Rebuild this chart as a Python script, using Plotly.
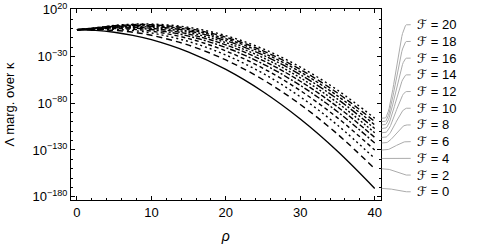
import numpy as np
import plotly.graph_objects as go

# ---- data (log10 of Λ marginalised over κ) ----
rho = [0, 2.5, 5, 7.5, 10, 15, 20, 25, 30, 35, 40]
F_values = [0, 2, 4, 6, 8, 10, 12, 14, 16, 18, 20]
logL_F0 = [-1.5, -2.16, -4.15, -7.46, -12.1, -25.35, -43.9, -67.75, -96.9, -131.35, -171.1]
logL_F2 = [-1.5, -1.39, -2.12, -4.11, -7.41, -17.95, -33.79, -54.92, -81.35, -113.08, -150.1]
logL_F4 = [-1.5, -0.98, -1.06, -2.35, -4.94, -14.07, -28.48, -48.18, -73.19, -103.49, -139.08]
logL_F6 = [-1.5, -0.65, -0.19, -0.92, -2.94, -10.91, -24.16, -42.70, -66.54, -95.67, -130.11]
logL_F8 = [-1.5, -0.38, 0.53, 0.28, -1.26, -8.26, -20.54, -38.11, -60.97, -89.13, -122.59]
logL_F10 = [-1.5, -0.16, 1.11, 1.24, 0.09, -6.14, -17.64, -34.43, -56.52, -83.90, -116.58]
logL_F12 = [-1.5, 0.03, 1.59, 2.03, 1.20, -4.39, -15.25, -31.40, -52.84, -79.58, -111.61]
logL_F14 = [-1.5, 0.19, 2.03, 2.75, 2.21, -2.80, -13.08, -28.64, -49.50, -75.65, -107.11]
logL_F16 = [-1.5, 0.34, 2.42, 3.39, 3.10, -1.39, -11.15, -26.19, -46.53, -72.17, -103.10]
logL_F18 = [-1.5, 0.47, 2.75, 3.95, 3.88, -0.16, -9.46, -24.05, -43.94, -69.12, -99.59]
logL_F20 = [-1.5, 0.60, 3.09, 4.51, 4.67, 1.08, -7.77, -21.91, -41.34, -66.06, -96.09]
series = [logL_F0, logL_F2, logL_F4, logL_F6, logL_F8, logL_F10,
          logL_F12, logL_F14, logL_F16, logL_F18, logL_F20]
labels = ["ℱ = %d" % f for f in F_values]
ytick_vals = [1e20, 1e-30, 1e-80, 1e-130, 1e-180]
ytick_text = ["10<sup>20</sup>", "10<sup>−30</sup>", "10<sup>−80</sup>",
              "10<sup>−130</sup>", "10<sup>−180</sup>"]
xtick_vals = [0, 10, 20, 30, 40]

# ---- styles ----
dashes = ["solid", "6px,4px", "2px,3px", "4px,3px", "6px,2px,2px,2px",
          "5px,2px", "2px,2px", "8px,2px,2px,2px", "3px,2px", "6px,3px", "2px,3px"]
FONT = "Liberation Sans, Arial, DejaVu Sans, sans-serif"

W, H = 500, 250
ML, MT, MB = 71, 9, 50
plot_right = 380.7
xdom = (plot_right - ML) / (W - ML)

fig = go.Figure()
for s, d in zip(series, dashes):
    fig.add_trace(go.Scatter(
        x=rho, y=[10 ** v for v in s], mode="lines", line_shape="spline",
        line=dict(color="black", width=1.4, dash=d), showlegend=False,
        hoverinfo="skip"))

# ---- callout labels with leader lines (second x axis to the right) ----
n = len(F_values)
lab_top, lab_step = 3.9, 17.86
t = np.linspace(0, 1, 40)
for i, (s, lab) in enumerate(zip(series, labels)):
    y_end = s[-1]
    y_lab = lab_top - lab_step * (n - 1 - i)
    xs = 1 + 29 * t
    u = np.clip((xs - 4) / 22, 0, 1)
    sm = u * u * (3 - 2 * u)
    ys = y_end + (y_lab - y_end) * sm
    fig.add_trace(go.Scatter(
        x=xs, y=10 ** ys, xaxis="x2", yaxis="y", mode="lines",
        line=dict(color="#ababab", width=1), showlegend=False, hoverinfo="skip"))
    fig.add_annotation(x=34, y=y_lab, xref="x2", yref="y", text=lab,
                       showarrow=False, xanchor="left", yanchor="middle",
                       font=dict(family=FONT, size=13, color="black"))

fig.update_layout(
    width=W, height=H, margin=dict(l=ML, r=0, t=MT, b=MB),
    paper_bgcolor="white", plot_bgcolor="white",
    font=dict(family=FONT, size=13, color="black"),
    xaxis=dict(domain=[0, xdom], range=[-0.8, 40.8], tickvals=xtick_vals,
               automargin=False,
               ticks="inside", ticklen=4, tickwidth=1, tickcolor="black",
               showline=True, linecolor="black", linewidth=1, mirror="ticks",
               showgrid=False, zeroline=False,
               minor=dict(dtick=2, tick0=0, ticks="inside", ticklen=2,
                          tickcolor="black", showgrid=False),
               title=dict(text="<i>ρ</i>", font=dict(size=14), standoff=12)),
    yaxis=dict(type="log", range=[-183.5, 20.7], tickvals=ytick_vals,
               automargin=False,
               ticktext=ytick_text, ticks="inside", ticklen=4, tickwidth=1,
               tickcolor="black", showline=True, linecolor="black", linewidth=1,
               mirror="ticks", showgrid=False, zeroline=False,
               minor=dict(dtick=10, tick0=0, ticks="inside", ticklen=2,
                          tickcolor="black", showgrid=False),
               title=dict(text="Λ marg. over κ", font=dict(size=13), standoff=14)),
    xaxis2=dict(domain=[xdom, 1], range=[0, W - plot_right], anchor="y",
                visible=False, showgrid=False, zeroline=False),
)

fig.write_html("out.html", config={"displayModeBar": False},
               post_script="document.body.style.margin='0';"
                           "document.body.style.overflow='hidden';")
